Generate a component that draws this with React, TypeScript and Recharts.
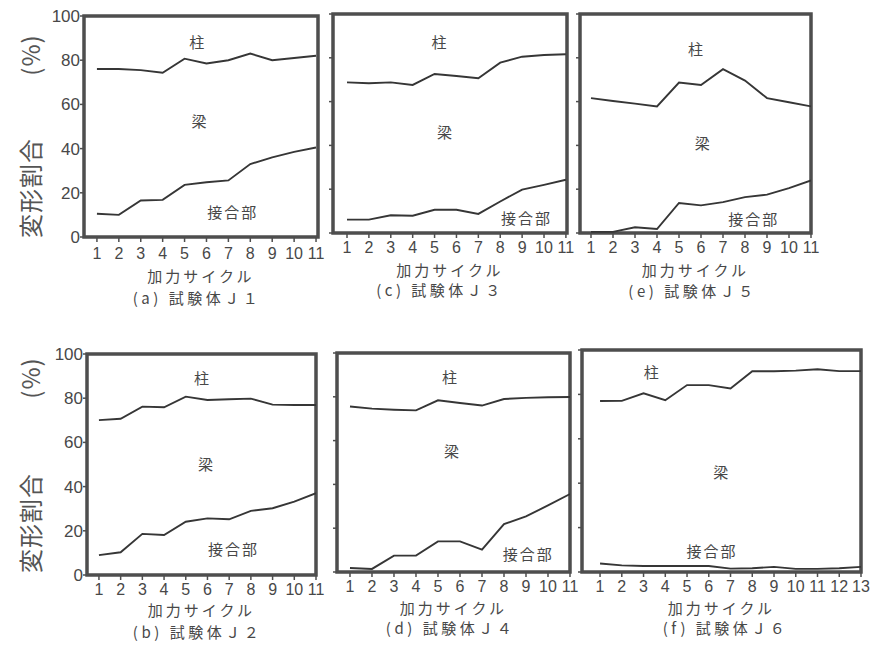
import React from 'react'
import { LineChart, Line, XAxis, YAxis, ReferenceArea, ReferenceDot } from 'recharts'

// loading cycles on the x axis
const cycles11 = [1, 2, 3, 4, 5, 6, 7, 8, 9, 10, 11]
const cycles13 = [1, 2, 3, 4, 5, 6, 7, 8, 9, 10, 11, 12, 13]
const yTicks = [0, 20, 40, 60, 80, 100]

// upper boundary (column share) and lower boundary (joint share), % of total deformation
const j1Column = [76, 76, 75.5, 74.3, 80.7, 78.5, 80, 83, 80, 81, 82]
const j1Joint = [10.5, 10, 16.5, 16.8, 23.6, 24.8, 25.6, 33, 36, 38.5, 40.5]
const j3Column = [68.8, 68.4, 68.8, 67.6, 72.6, 71.7, 70.7, 77.8, 80.5, 81.3, 81.6]
const j3Joint = [6.1, 6.1, 8.1, 7.9, 10.6, 10.6, 8.7, 14.4, 19.8, 22, 24.3]
const j5Column = [61.6, 60.3, 59.1, 57.8, 68.7, 67.6, 74.8, 69.6, 61.6, 59.7, 57.8]
const j5Joint = [0.5, 0.5, 2.6, 1.8, 13.7, 12.6, 14.1, 16.4, 17.5, 20.5, 24]
const j2Column = [70.1, 70.7, 76.2, 75.9, 80.7, 79.2, 79.5, 79.8, 77.1, 76.9, 76.9]
const j2Joint = [9, 10.3, 18.6, 18.1, 24.1, 25.6, 25.2, 29, 30.2, 33.2, 37]
const j4Column = [75.6, 74.6, 74.1, 73.8, 78.4, 77.2, 76, 79, 79.5, 79.8, 79.9]
const j4Joint = [1.8, 1.4, 7.5, 7.5, 14, 14, 10.2, 21.9, 25.4, 30.4, 35.6]
const j6Column = [77, 77.1, 80.5, 77.4, 84.2, 84.2, 82.7, 90.4, 90.4, 90.7, 91.3, 90.5, 90.5]
const j6Joint = [3.8, 3, 2.7, 2.7, 2.7, 2.7, 1.5, 1.7, 2.3, 1.4, 1.4, 1.7, 2.3]

const FRAME = '#4e4e4e'
const INK = '#363636'
const TEXT = '#484848'
const NUM_FONT = '"Liberation Sans Narrow", "Liberation Sans", Arial, sans-serif'
const JP_FONT = '"Noto Sans CJK JP", "Noto Sans", sans-serif'

type Note = { text: string, x: number, y: number }
type PanelDef = {
  caption: string
  cycles: number[]
  column: number[]
  joint: number[]
  frame: { left: number, right: number, top: number, bottom: number }
  domain: [number, number]
  yLabels: boolean
  tickGap: number
  titleY: number
  captionY: number
  captionShift: number
  notes: Note[]
}

const panels: PanelDef[] = [
  {
    caption: '(a) 試験体Ｊ１', cycles: cycles11, column: j1Column, joint: j1Joint,
    frame: { left: 84, right: 318, top: 16, bottom: 237 }, domain: [0.41, 11.09], yLabels: true,
    tickGap: 6, titleY: 275, captionY: 298, captionShift: -4,
    notes: [{ text: '柱', x: 5.6, y: 88 }, { text: '梁', x: 5.7, y: 52 }, { text: '接合部', x: 7.2, y: 11 }],
  },
  {
    caption: '(c) 試験体Ｊ３', cycles: cycles11, column: j3Column, joint: j3Joint,
    frame: { left: 333, right: 567, top: 14, bottom: 233 }, domain: [0.36, 11.05], yLabels: false,
    tickGap: 4, titleY: 269, captionY: 290, captionShift: -10,
    notes: [{ text: '柱', x: 5.25, y: 87 }, { text: '梁', x: 5.5, y: 45.6 }, { text: '接合部', x: 9.2, y: 6.4 }],
  },
  {
    caption: '(e) 試験体Ｊ５', cycles: cycles11, column: j5Column, joint: j5Joint,
    frame: { left: 580, right: 811, top: 14, bottom: 233 }, domain: [0.5, 11], yLabels: false,
    tickGap: 4, titleY: 269, captionY: 291, captionShift: -3,
    notes: [{ text: '柱', x: 5.8, y: 83.5 }, { text: '梁', x: 6.1, y: 41 }, { text: '接合部', x: 8.4, y: 6 }],
  },
  {
    caption: '(b) 試験体Ｊ２', cycles: cycles11, column: j2Column, joint: j2Joint,
    frame: { left: 87, right: 316, top: 354, bottom: 575 }, domain: [0.45, 11], yLabels: true,
    tickGap: 4, titleY: 609, captionY: 632, captionShift: -4,
    notes: [{ text: '柱', x: 5.77, y: 89 }, { text: '梁', x: 5.95, y: 49.8 }, { text: '接合部', x: 7.2, y: 11.3 }],
  },
  {
    caption: '(d) 試験体Ｊ４', cycles: cycles11, column: j4Column, joint: j4Joint,
    frame: { left: 337, right: 570, top: 353, bottom: 572 }, domain: [0.41, 11], yLabels: false,
    tickGap: 4, titleY: 607, captionY: 628, captionShift: -3,
    notes: [{ text: '柱', x: 5.57, y: 88.6 }, { text: '梁', x: 5.66, y: 54.8 }, { text: '接合部', x: 9.1, y: 7.8 }],
  },
  {
    caption: '(f) 試験体Ｊ６', cycles: cycles13, column: j6Column, joint: j6Joint,
    frame: { left: 582, right: 861, top: 350, bottom: 572 }, domain: [0.17, 13], yLabels: false,
    tickGap: 4, titleY: 607, captionY: 628, captionShift: 4,
    notes: [{ text: '柱', x: 3.4, y: 89.6 }, { text: '梁', x: 6.6, y: 44.6 }, { text: '接合部', x: 6.15, y: 9 }],
  },
]

// axis boxes sit inside the chart, so the plot area lines up with the frame
const Y_W = 44
const X_H = 30
const M = { top: 12, right: 14, bottom: 0, left: 0 }

const Panel: React.FC<{ p: PanelDef }> = ({ p }) => {
  const w = p.frame.right - p.frame.left + Y_W + M.right
  const h = p.frame.bottom - p.frame.top + M.top + X_H
  const data = p.cycles.map((c, i) => ({ cycle: c, column: p.column[i], joint: p.joint[i] }))
  const cx = (p.frame.left + p.frame.right) / 2
  return (
    <>
      <div style={{ position: 'absolute', left: p.frame.left - Y_W, top: p.frame.top - M.top }}>
        <LineChart width={w} height={h} data={data} margin={M}>
          <XAxis dataKey="cycle" type="number" domain={p.domain} ticks={p.cycles} interval={0} allowDataOverflow
            height={X_H} axisLine={false} tickLine={{ stroke: FRAME, strokeWidth: 1.5 }} tickSize={5} tickMargin={p.tickGap}
            tick={{ fill: TEXT, fontSize: 16, fontFamily: NUM_FONT }} />
          <YAxis type="number" domain={[0, 100]} ticks={yTicks} interval={0} width={Y_W}
            axisLine={false} tickLine={{ stroke: FRAME, strokeWidth: 1.5 }} tickSize={4} tickMargin={0}
            tickFormatter={p.yLabels ? (v: number) => String(v) : () => ''}
            tick={{ fill: TEXT, fontSize: 17, fontFamily: NUM_FONT }} />
          <ReferenceArea x1={p.domain[0]} x2={p.domain[1]} y1={0} y2={100} fill="none" fillOpacity={0}
            stroke={FRAME} strokeWidth={3.5} ifOverflow="visible" />
          <Line type="linear" dataKey="column" stroke={INK} strokeWidth={1.9} dot={false} isAnimationActive={false} />
          <Line type="linear" dataKey="joint" stroke={INK} strokeWidth={1.9} dot={false} isAnimationActive={false} />
          {p.notes.map(n => (
            <ReferenceDot key={n.text} x={n.x} y={n.y} r={0} fill="none" stroke="none" ifOverflow="visible"
              label={{ value: n.text, position: 'center', fill: TEXT, fontSize: 15, fontFamily: JP_FONT, letterSpacing: 2 }} />
          ))}
        </LineChart>
      </div>
      <div style={{ position: 'absolute', left: cx, top: p.titleY - 7.5, transform: 'translateX(-50%)', whiteSpace: 'nowrap',
        fontFamily: JP_FONT, fontSize: 15, letterSpacing: 3, color: TEXT, lineHeight: '15px' }}>加力サイクル</div>
      <div style={{ position: 'absolute', left: cx + p.captionShift, top: p.captionY - 8, transform: 'translateX(-50%)', whiteSpace: 'nowrap',
        fontFamily: JP_FONT, fontSize: 15, letterSpacing: 3.5, color: TEXT, lineHeight: '16px' }}>{p.caption}</div>
    </>
  )
}

const YTitle: React.FC<{ text: string, y: number }> = ({ text, y }) => (
  <div style={{ position: 'absolute', left: 30, top: y, transform: 'translate(-50%, -50%) rotate(-90deg)', whiteSpace: 'nowrap',
    fontFamily: JP_FONT, fontSize: 24, letterSpacing: 1, color: '#555', lineHeight: '28px' }}>{text}</div>
)

export default function App() {
  return (
    <div style={{ position: 'absolute', left: 0, top: 0, width: 877, height: 645, background: '#fff', overflow: 'hidden' }}>
      {panels.map(p => <Panel key={p.caption} p={p} />)}
      <YTitle text="(%)" y={55} />
      <YTitle text="変形割合" y={188} />
      <YTitle text="(%)" y={378} />
      <YTitle text="変形割合" y={523} />
    </div>
  )
}
